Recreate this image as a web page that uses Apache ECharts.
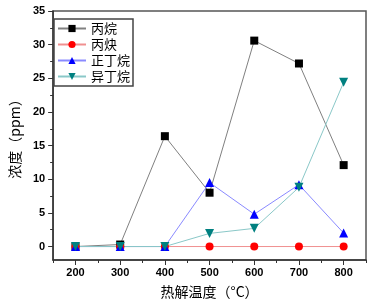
<!DOCTYPE html>
<html>
<head>
<meta charset="utf-8">
<script src="https://cdn.jsdelivr.net/npm/echarts@6/dist/echarts.min.js"></script>
<style>
  html, body { margin: 0; padding: 0; background: #fff; }
  #chart { width: 373px; height: 305px; }
</style>
</head>
<body>
<div id="chart"></div>
<script>
// 热解温度 (°C)
const temps = [200, 300, 400, 500, 600, 700, 800];
const propane = [0, 0.3, 16.4, 8.0, 30.6, 27.2, 12.1];
const propyne = [0, 0, 0, 0, 0, 0, 0];
const nButane = [0, 0, 0, 9.5, 4.8, 9.2, 2.0];
const isoButane = [0, 0, 0, 1.95, 2.7, 8.8, 24.4];
const seriesNames = ['丙烷', '丙炔', '正丁烷', '异丁烷'];

const xMajor = [200, 300, 400, 500, 600, 700, 800];
const xMinor = [150, 250, 350, 450, 550, 650, 750, 850];
const yMajor = [0, 5, 10, 15, 20, 25, 30, 35];
const yMinor = [2.5, 7.5, 12.5, 17.5, 22.5, 27.5, 32.5];

const axisColor = '#333';
const labelFont = { fontFamily: 'Liberation Sans', fontWeight: 'bold', fontSize: 11, color: '#000' };

function pairs(ys) {
  return temps.map((t, i) => [t, ys[i]]);
}

function lineSeries(name, ys, lineColor, markColor, symbol, size, rotate) {
  return {
    name: name,
    type: 'line',
    data: pairs(ys),
    symbol: symbol,
    symbolSize: size,
    symbolRotate: rotate || 0,
    lineStyle: { color: lineColor, width: 1 },
    itemStyle: { color: markColor },
    emphasis: { disabled: true },
    animation: false
  };
}

const chart = echarts.init(document.getElementById('chart'), null, { renderer: 'canvas' });
chart.setOption({
  backgroundColor: '#fff',
  animation: false,
  grid: {
    left: 41, right: 7, top: 11, bottom: 45,
    show: true, borderColor: '#555', borderWidth: 1.5
  },
  legend: {
    orient: 'vertical',
    left: 54, top: 19,
    data: seriesNames,
    itemWidth: 28, itemHeight: 9, itemGap: 3,
    padding: [3, 3, 3, 3],
    backgroundColor: '#fff',
    borderColor: '#444',
    borderWidth: 1.5,
    textStyle: { fontFamily: 'Noto Sans CJK SC', fontSize: 13, color: '#000' }
  },
  xAxis: [{
    type: 'value', min: 150, max: 850,
    name: '热解温度（°C）', nameLocation: 'middle', nameGap: 25,
    nameTextStyle: { fontFamily: 'Noto Sans CJK SC', fontSize: 14, color: '#000' },
    axisLine: { onZero: false, lineStyle: { color: axisColor, width: 1.5 } },
    axisTick: { inside: false, length: 5, lineStyle: { color: axisColor }, customValues: xMajor },
    axisLabel: { ...labelFont, margin: 7, customValues: xMajor },
    splitLine: { show: false }
  }, {
    type: 'value', min: 150, max: 850, position: 'bottom',
    axisLine: { show: false, onZero: false },
    axisTick: { inside: false, length: 3, lineStyle: { color: axisColor }, customValues: xMinor },
    axisLabel: { show: false },
    splitLine: { show: false }
  }],
  yAxis: [{
    type: 'value', min: -2, max: 35,
    name: '浓度（ppm）', nameLocation: 'middle', nameGap: 31,
    nameTextStyle: { fontFamily: 'Noto Sans CJK SC', fontSize: 14, color: '#000' },
    axisLine: { show: true, onZero: false, lineStyle: { color: axisColor, width: 1.5 } },
    axisTick: { show: true, inside: false, length: 5, lineStyle: { color: axisColor }, customValues: yMajor },
    axisLabel: { ...labelFont, margin: 8, customValues: yMajor },
    splitLine: { show: false }
  }, {
    type: 'value', min: -2, max: 35, position: 'left',
    axisLine: { show: false, onZero: false },
    axisTick: { show: true, inside: false, length: 3, lineStyle: { color: axisColor }, customValues: yMinor },
    axisLabel: { show: false },
    splitLine: { show: false }
  }],
  series: [
    lineSeries(seriesNames[0], propane, '#808080', '#000000', 'rect', 8),
    lineSeries(seriesNames[1], propyne, '#f09090', '#ff0000', 'circle', 8),
    lineSeries(seriesNames[2], nButane, '#8a8aff', '#0000ff', 'triangle', 9),
    lineSeries(seriesNames[3], isoButane, '#8ac8c8', '#008080', 'triangle', 9, 180)
  ]
});
</script>
</body>
</html>
